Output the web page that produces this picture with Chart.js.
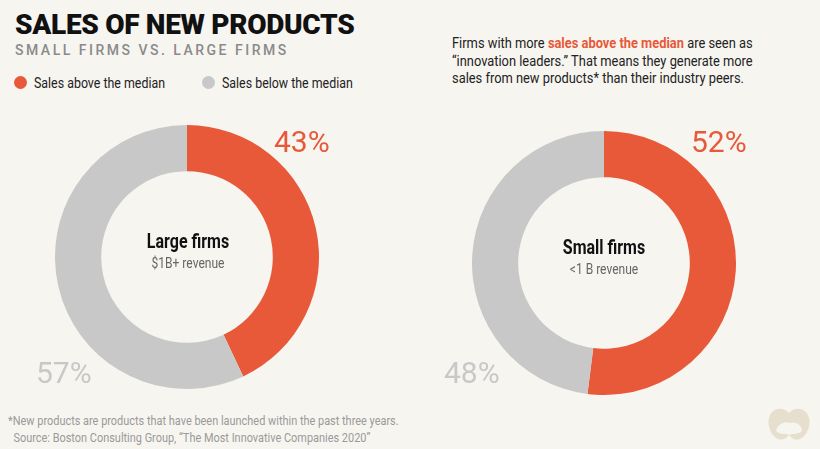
<!DOCTYPE html>
<html>
<head>
<meta charset="utf-8">
<script src="https://cdn.jsdelivr.net/npm/chart.js@4"></script>
<style>
  html, body { margin: 0; padding: 0; }
  body {
    width: 820px; height: 449px; overflow: hidden;
    background: #f7f5f0; position: relative;
    font-family: Roboto, sans-serif;
    color: #1a1a1a;
  }
  .abs { position: absolute; white-space: nowrap; }
  .cond { display: inline-block; transform: scaleX(0.8); transform-origin: left top; }
  #title { left: 15px; top: 8px; font-weight: 900; font-size: 28px; letter-spacing: -0.3px; color: #111; }
  #subtitle { left: 15px; top: 42px; font-size: 14px; letter-spacing: 2.5px; color: #8a8a8a; font-weight: 500; }
  .legend { top: 74px; font-size: 15.5px; color: #222; }
  .legend i { display: inline-block; width: 13px; height: 13px; border-radius: 50%; vertical-align: -1px; margin-right: 7px; }
  #note { left: 452px; top: 35px; font-size: 15.5px; line-height: 17.5px; color: #222; }
  #note .cond { transform: scaleX(0.83); }
  #note b { color: #e8593a; font-weight: 700; }
  .pct { font-size: 30px; line-height: 30px; }
  .center { text-align: center; width: 200px; }
  .center .big { font-size: 19.5px; font-weight: 700; color: #111; transform: scaleX(0.82); }
  .center .small { font-size: 14px; color: #666; margin-top: 2px; transform: scaleX(0.86); }
  canvas { position: absolute; }
  #foot { left: 8px; top: 412px; font-size: 13.5px; line-height: 17px; color: #9a9a9a; }
  #foot .cond { transform: scaleX(0.81); }
</style>
</head>
<body>
<div id="title" class="abs">SALES OF NEW PRODUCTS</div>
<div id="subtitle" class="abs">SMALL FIRMS VS. LARGE FIRMS</div>
<div id="leg1" class="abs legend" style="left:14px"></div>
<div id="leg2" class="abs legend" style="left:202px"></div>
<div id="note" class="abs"><span class="cond">Firms with more <b>sales above the median</b> are seen as<br>“innovation leaders.” That means they generate more<br>sales from new products* than their industry peers.</span></div>

<canvas id="largeChart" width="264" height="264" style="left:55px; top:125px"></canvas>
<canvas id="smallChart" width="264" height="264" style="left:472px; top:131px"></canvas>

<div class="abs center" style="left:88px; top:230px"><div class="big">Large firms</div><div class="small">$1B+ revenue</div></div>
<div class="abs center" style="left:504px; top:236px"><div class="big">Small firms</div><div class="small">&lt;1 B revenue</div></div>

<div id="pctLargeAbove" class="abs pct" style="left:274px; top:127px"></div>
<div id="pctLargeBelow" class="abs pct" style="left:36px; top:358px"></div>
<div id="pctSmallAbove" class="abs pct" style="left:691px; top:127px"></div>
<div id="pctSmallBelow" class="abs pct" style="left:444px; top:358px"></div>

<div id="foot" class="abs"><span class="cond">*New products are products that have been launched within the past three years.<br>&nbsp;&nbsp;Source: Boston Consulting Group, “The Most Innovative Companies 2020”</span></div>

<svg class="abs" style="left:766px; top:405px" width="46" height="38" viewBox="0 0 46 38">
  <path d="M4 10 C8 2 18 2 23 8 C28 2 38 2 42 10 C46 18 42 30 34 34 C28 36 25 32 23 30 C21 32 18 36 12 34 C4 30 0 18 4 10 Z" fill="#e6dfcd"/>
  <path d="M10 26 C12 18 20 16 24 18 C30 16 36 20 36 26 C32 30 26 28 23 30 C20 28 14 30 10 26 Z" fill="#f7f5f0"/>
</svg>

<script>
const categories = ['Sales above the median', 'Sales below the median'];
const largeFirms = [43, 57];
const smallFirms = [52, 48];
const colors = ['#e8593a', '#c8c8c8'];

// legend + percent labels from the data
document.getElementById('leg1').innerHTML = '<i style="background:' + colors[0] + '"></i><span class="cond">' + categories[0] + '</span>';
document.getElementById('leg2').innerHTML = '<i style="background:' + colors[1] + '"></i><span class="cond">' + categories[1] + '</span>';

function setPct(id, value, color) {
    const el = document.getElementById(id);
    el.textContent = value + '%';
    el.style.color = color;
}
setPct('pctLargeAbove', largeFirms[0], colors[0]);
setPct('pctLargeBelow', largeFirms[1], colors[1]);
setPct('pctSmallAbove', smallFirms[0], colors[0]);
setPct('pctSmallBelow', smallFirms[1], colors[1]);

function makeDonut(canvasId, values) {
    new Chart(document.getElementById(canvasId).getContext('2d'), {
        type: 'doughnut',
        data: {
            labels: categories,
            datasets: [{
                data: values,
                backgroundColor: colors,
                borderWidth: 0
            }]
        },
        options: {
            responsive: false,
            animation: false,
            cutout: '65%',
            layout: { padding: 0 },
            plugins: {
                legend: { display: false },
                tooltip: { enabled: false }
            }
        }
    });
}

makeDonut('largeChart', largeFirms);
makeDonut('smallChart', smallFirms);
</script>
</body>
</html>
